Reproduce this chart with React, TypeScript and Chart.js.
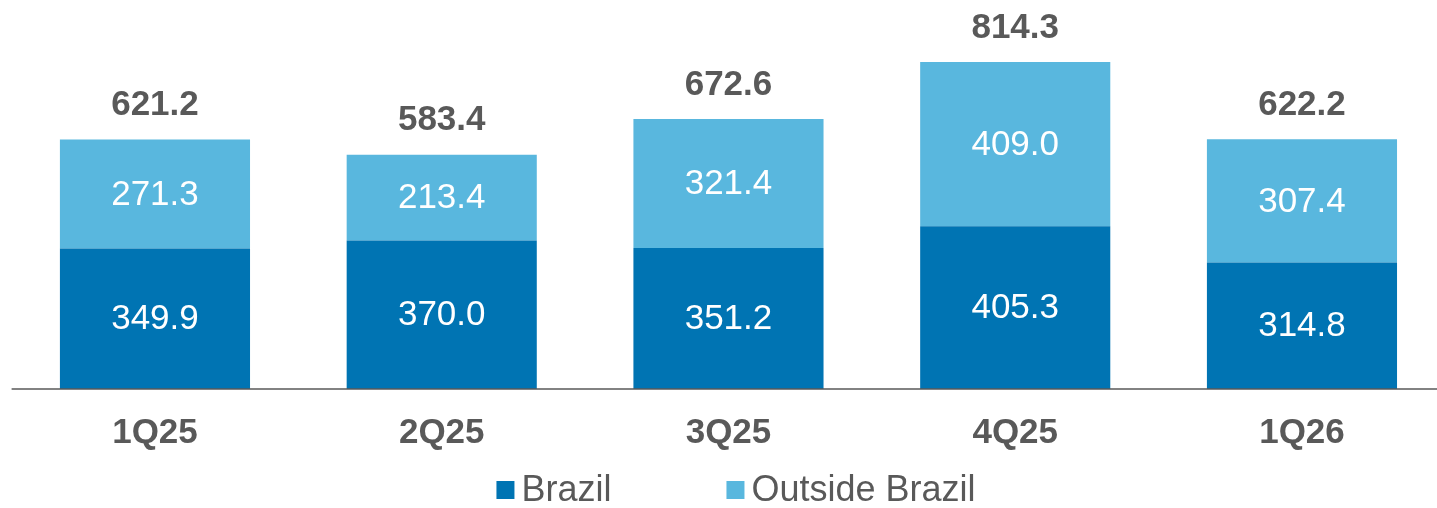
import React, { useEffect, useRef } from "react";
import { Chart, registerables } from "chart.js";

Chart.register(...registerables);

const categories = ["1Q25", "2Q25", "3Q25", "4Q25", "1Q26"];
const brazil = [349.9, 370.0, 351.2, 405.3, 314.8];
const outsideBrazil = [271.3, 213.4, 321.4, 409.0, 307.4];
const seriesNames = ["Brazil", "Outside Brazil"];
const totals = categories.map((_, i) => brazil[i] + outsideBrazil[i]);

const FONT = "'Liberation Sans', Arial, Helvetica, sans-serif";
const TEXT = "#595959";
const DARK = "#0074B3";
const LIGHT = "#59B7DE";

const labelsPlugin = {
  id: "barLabels",
  afterDatasetsDraw(chart: any) {
    const ctx = chart.ctx;
    ctx.save();
    // axis baseline across full width
    const xs = chart.scales.x;
    ctx.strokeStyle = TEXT;
    ctx.lineWidth = 1.5;
    ctx.beginPath();
    ctx.moveTo(chart.chartArea.left, xs.top);
    ctx.lineTo(chart.width, xs.top);
    ctx.stroke();

    ctx.textAlign = "center";
    ctx.textBaseline = "middle";
    chart.data.datasets.forEach((ds: any, di: number) => {
      const meta = chart.getDatasetMeta(di);
      meta.data.forEach((bar: any, i: number) => {
        const { x, y, base } = bar.getProps(["x", "y", "base"], true);
        ctx.fillStyle = "#ffffff";
        ctx.font = `normal 35px ${FONT}`;
        ctx.fillText(Number(ds.data[i]).toFixed(1), x, (y + base) / 2 + 1);
      });
    });
    const topMeta = chart.getDatasetMeta(chart.data.datasets.length - 1);
    topMeta.data.forEach((bar: any, i: number) => {
      const { x, y } = bar.getProps(["x", "y"], true);
      ctx.fillStyle = TEXT;
      ctx.font = `bold 35px ${FONT}`;
      ctx.fillText(totals[i].toFixed(1), x, y - 34);
    });
    ctx.restore();
  },
};

const legendPlugin = {
  id: "customLegend",
  afterDraw(chart: any) {
    const ctx = chart.ctx;
    ctx.save();
    ctx.font = `normal 36px ${FONT}`;
    ctx.textBaseline = "middle";
    ctx.textAlign = "left";
    const box = 18;
    const gap = 7;
    const itemGap = 115;
    const items = chart.data.datasets.map((ds: any) => ({
      text: ds.label as string,
      color: ds.backgroundColor as string,
      w: box + gap + ctx.measureText(ds.label).width,
    }));
    const total = items.reduce((s: number, it: any) => s + it.w, 0) + itemGap * (items.length - 1);
    let x = chart.width / 2 - total / 2 + 13;
    const cy = 490;
    items.forEach((it: any) => {
      ctx.fillStyle = it.color;
      ctx.fillRect(x, cy - box / 2, box, box);
      ctx.fillStyle = TEXT;
      ctx.fillText(it.text, x + box + gap, cy + 1);
      x += it.w + itemGap;
    });
    ctx.restore();
  },
};

export default function App() {
  const ref = useRef<HTMLCanvasElement | null>(null);

  useEffect(() => {
    document.body.style.margin = "0";
    if (!ref.current) return;
    const chart = new Chart(ref.current, {
      type: "bar",
      data: {
        labels: categories,
        datasets: [
          {
            label: seriesNames[0],
            data: brazil,
            backgroundColor: DARK,
            borderWidth: 0,
            barPercentage: 0.663,
            categoryPercentage: 1,
          },
          {
            label: seriesNames[1],
            data: outsideBrazil,
            backgroundColor: LIGHT,
            borderWidth: 0,
            barPercentage: 0.663,
            categoryPercentage: 1,
          },
        ],
      },
      options: {
        responsive: false,
        animation: false,
        layout: { padding: { left: 11.6, right: 0.65, top: 27.6, bottom: 31 } },
        plugins: {
          legend: { display: false },
          tooltip: { enabled: false },
        },
        scales: {
          x: {
            stacked: true,
            grid: { display: false, drawTicks: false },
            border: { display: false },
            ticks: {
              color: TEXT,
              font: { family: FONT, size: 35, weight: "bold" },
              padding: 23,
              maxRotation: 0,
              autoSkip: false,
            },
          },
          y: { stacked: true, display: false, min: 0, max: 900 },
        },
      },
      plugins: [labelsPlugin, legendPlugin],
    });
    return () => chart.destroy();
  }, []);

  return (
    <div style={{ width: 1437, height: 508, overflow: "hidden" }}>
      <canvas ref={ref} width={1446} height={508} style={{ display: "block" }} />
    </div>
  );
}
